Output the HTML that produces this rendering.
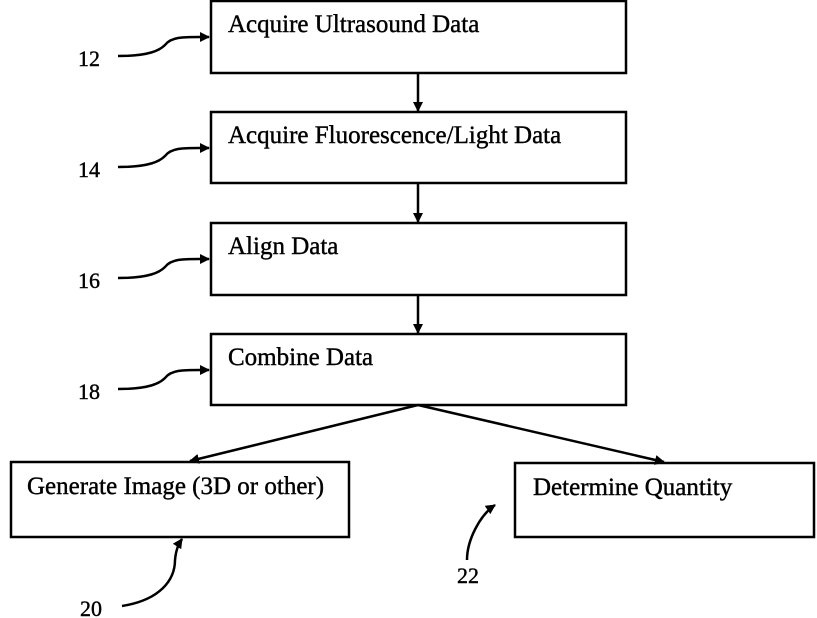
<!DOCTYPE html>
<html><head><style>
html,body{margin:0;padding:0;background:#fff;}
svg{display:block}
text{font-family:"Liberation Serif",serif;font-size:25px;fill:#000;stroke:#000;stroke-width:0.4}
text.n{font-size:22px}
</style></head><body>
<svg width="817" height="618" viewBox="0 0 817 618" xmlns="http://www.w3.org/2000/svg">
<defs><marker id="a" markerWidth="10" markerHeight="10" refX="9" refY="5" orient="auto" markerUnits="userSpaceOnUse"><path d="M0,0 L10,5 L0,10 z" fill="#000"/></marker></defs>
<g fill="none" stroke="#000" stroke-width="2.5">
<rect x="211" y="1" width="415" height="72"/>
<rect x="211" y="112" width="415" height="71"/>
<rect x="211" y="223" width="415" height="72"/>
<rect x="211" y="334" width="415" height="71"/>
<rect x="11" y="462" width="338" height="75"/>
<rect x="515" y="463" width="299" height="74"/>
<line x1="418" y1="73" x2="418" y2="111" marker-end="url(#a)"/>
<line x1="418" y1="183" x2="418" y2="222" marker-end="url(#a)"/>
<line x1="418" y1="295" x2="418" y2="333" marker-end="url(#a)"/>
<line x1="418" y1="405" x2="190" y2="461" marker-end="url(#a)"/>
<line x1="418" y1="405" x2="664" y2="462" marker-end="url(#a)"/>
<path d="M118,56 C150,56 160,50 165,45 C172,36 185,37 209,37" marker-end="url(#a)"/>
<path d="M118,167 C150,167 160,161 165,156 C172,147 185,148 209,148" marker-end="url(#a)"/>
<path d="M118,278 C150,278 160,272 165,267 C172,258 185,259 209,259" marker-end="url(#a)"/>
<path d="M118,389 C150,389 160,383 165,378 C172,369 185,370 209,370" marker-end="url(#a)"/>
<path d="M122,606 C160,600 175,580 175,560 C176,550 178,545 182,539" marker-end="url(#a)"/>
<path d="M467,560 C467,540 480,515 495,505" marker-end="url(#a)"/>
</g>
<text x="228" y="32">Acquire Ultrasound Data</text>
<text x="228" y="143">Acquire Fluorescence/Light Data</text>
<text x="228" y="254">Align Data</text>
<text x="228" y="365">Combine Data</text>
<text x="27" y="494">Generate Image (3D or other)</text>
<text x="533" y="495">Determine Quantity</text>
<text class="n" x="78" y="66">12</text>
<text class="n" x="78" y="177">14</text>
<text class="n" x="78" y="288">16</text>
<text class="n" x="78" y="399">18</text>
<text class="n" x="80" y="616">20</text>
<text class="n" x="457" y="583">22</text>
</svg>
</body></html>
